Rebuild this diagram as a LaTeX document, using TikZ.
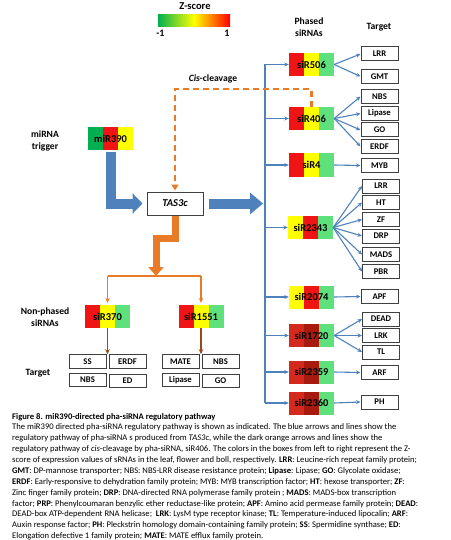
\documentclass[tikz,border=0pt]{standalone}
\usepackage{fontspec}
\setmainfont{Carlito}
\usetikzlibrary{arrows.meta}
\definecolor{zblue}{HTML}{4F81BD}
\definecolor{zorange}{HTML}{E97A26}
\definecolor{zbrown}{HTML}{9A4A1A}
\definecolor{zred}{HTML}{F01414}
\definecolor{zyel}{HTML}{FFFF00}
\definecolor{zlgreen}{HTML}{5EE07C}
\definecolor{zgreen}{HTML}{00B050}
\definecolor{zredA}{HTML}{D42A1E}
\definecolor{zredB}{HTML}{A8190F}
\definecolor{tgray}{HTML}{404040}
\newcommand\sirbox[7]{%
  \fill[#4] (#2-22.5,#3-11.5) rectangle ++(15,23);
  \fill[#5] (#2-7.5,#3-11.5) rectangle ++(15,23);
  \fill[#6] (#2+7.5,#3-11.5) rectangle ++(15,23);
  \node[sitext] (#1) at (#2,#3) {#7};}
\tikzset{
  tgt/.style={draw=tgray, line width=1pt, fill=white, minimum width=37pt, minimum height=14pt, inner sep=0pt, font=\fontsize{8.7}{10}\selectfont\bfseries},
  sitext/.style={minimum width=45pt, minimum height=23pt, inner sep=0pt, font=\fontsize{10.5}{12}\selectfont\bfseries},
  lbl/.style={align=center, inner sep=0pt, font=\fontsize{9.6}{12}\selectfont\bfseries},
  thinblue/.style={draw=zblue, line width=1.1pt, -{Stealth[length=4.5pt,width=4pt]}},
  thinorange/.style={draw=zorange, line width=1.3pt, -{Stealth[length=5pt,width=4.5pt]}},
  brownarr/.style={draw=zbrown, line width=1.3pt, -{Stealth[length=5pt,width=4.5pt]}},
  capline/.style={anchor=base west, inner sep=0pt, font=\fontsize{8.6}{10}\selectfont},
}
\begin{document}
\begin{tikzpicture}[x=1pt,y=-1pt]
\useasboundingbox (0,0) rectangle (450,540);
% Z-score legend
\node[lbl, font=\fontsize{10.5}{12}\selectfont\bfseries] (zt) at (195,6) {Z-score};
\shade[left color=zgreen, right color=red, middle color=zyel] (158,15) rectangle (230,27);
\node[lbl, font=\fontsize{10}{12}\selectfont\bfseries] (zm) at (160.5,33.5) {-1};
\node[lbl, font=\fontsize{10}{12}\selectfont\bfseries] (zp) at (227,33.5) {1};
% headers
\node[lbl] (ph) at (309,27) {Phased\\siRNAs};
\node[lbl] (th) at (379,27) {Target};
\node[lbl] (mt) at (45,141) {miRNA\\trigger};
\node[lbl] (np) at (45,317.5) {Non-phased\\siRNAs};
\node[lbl] (nt) at (38,373) {Target};
% miR390 and TAS3c
\sirbox{mir}{110.5}{139}{zgreen}{zred}{zyel}{miR390}
\node[draw=tgray, line width=1pt, minimum width=56pt, minimum height=23pt, inner sep=0pt, font=\fontsize{10.5}{12}\selectfont\bfseries\itshape] (tas) at (175,203.5) {TAS3c};
% phased siRNAs
\sirbox{s506}{311.5}{64.5}{zred}{zyel}{zlgreen}{siR506}
\sirbox{s406}{311.5}{118.5}{zred}{zyel}{zlgreen}{siR406}
\sirbox{s4}{311.5}{165}{zred}{zyel}{zlgreen}{siR4}
\sirbox{s2343}{310.5}{227.5}{zyel}{zred}{zlgreen}{siR2343}
\sirbox{s2074}{311.5}{297}{zyel}{zred}{zlgreen}{siR2074}
\sirbox{s1720}{311.5}{335.5}{zredA}{zredB}{zlgreen}{siR1720}
\sirbox{s2359}{311.5}{372}{zredA}{zredB}{zlgreen}{siR2359}
\sirbox{s2360}{311.5}{403}{zredA}{zredB}{zlgreen}{siR2360}
% targets
\node[tgt] (t1) at (379.5,54) {LRR};
\node[tgt] (t2) at (379.5,76.5) {GMT};
\node[tgt] (t3) at (379.5,96.5) {NBS};
\node[tgt] (t4) at (379.5,113.5) {Lipase};
\node[tgt] (t5) at (379.5,130) {GO};
\node[tgt] (t6) at (379.5,146.5) {ERDF};
\node[tgt] (t7) at (379.5,165.5) {MYB};
\node[tgt] (t8) at (381,186) {LRR};
\node[tgt] (t9) at (381,202.5) {HT};
\node[tgt] (t10) at (381,219.5) {ZF};
\node[tgt] (t11) at (381,236) {DRP};
\node[tgt] (t12) at (381,254.5) {MADS};
\node[tgt] (t13) at (381,271.5) {PBR};
\node[tgt] (t14) at (379.5,296.5) {APF};
\node[tgt] (t15) at (381,319) {DEAD};
\node[tgt] (t16) at (381,335.5) {LRK};
\node[tgt] (t17) at (381,352) {TL};
\node[tgt] (t18) at (379.5,372.5) {ARF};
\node[tgt] (t19) at (379.5,402) {PH};
% trunk
\coordinate (tt) at (265,64.5);
\coordinate (tb) at (265,403);
\draw[zblue, line width=1.1pt] (tt) -- (tb);
\foreach \s in {s506,s406,s4,s2343,s2074,s1720,s2359,s2360}
  \draw[thinblue] (\s.west -| tt) -- (\s.west);
% siRNA -> targets
\foreach \s/\t in {s506/t1,s506/t2,s406/t3,s406/t4,s406/t5,s406/t6,s4/t7,s2343/t8,s2343/t9,s2343/t10,s2343/t11,s2343/t12,s2343/t13,s2074/t14,s1720/t15,s1720/t16,s1720/t17,s2359/t18,s2360/t19}
  \draw[thinblue] (\s.east) -- (\t.west);
% thick blue arrows
\draw[zblue, line width=10pt, line join=miter, -{Triangle[length=10pt,width=20pt]}, shorten <=1.5pt, shorten >=4pt] (mir.south) |- (tas.west);
\draw[zblue, line width=10pt, -{Triangle[length=13pt,width=21pt]}, shorten <=5pt, shorten >=2pt] (tas.east) -- (tas.east -| tt);
% cis-cleavage dashed
\draw[zorange, line width=2.4pt, dash pattern=on 6pt off 4pt, -{Triangle[length=6pt,width=7pt]}, shorten >=1pt] (s406.north) -- ++(0,-17.5) -| (tas.north);
\node[lbl] (cis) at (213,79) {\textit{Cis}-cleavage};
% non-phased
\sirbox{s370}{107.5}{316.5}{zred}{zyel}{zlgreen}{siR370}
\sirbox{s1551}{201}{316.5}{zred}{zyel}{zlgreen}{siR1551}
\coordinate (fork) at (156,276);
\draw[zorange, line width=7pt, line join=miter, -{Triangle[length=9pt,width=15pt]}] (tas.south) -- ++(0,23) -| (fork);
\draw[zorange, line width=1.3pt] (s370.north |- fork) -- (s1551.north |- fork);
\draw[thinorange, shorten >=2pt] (s370.north |- fork) -- (s370.north);
\draw[thinorange, shorten >=2pt] (s1551.north |- fork) -- (s1551.north);
\node[tgt, minimum height=13.5pt] (n1) at (87.5,361.5) {SS};
\node[tgt, minimum height=13.5pt] (n2) at (127.5,361.5) {ERDF};
\node[tgt, minimum height=13.5pt] (n3) at (87.5,380) {NBS};
\node[tgt, minimum height=13.5pt] (n4) at (127.5,381) {ED};
\node[tgt, minimum height=13.5pt] (n5) at (180.5,361.5) {MATE};
\node[tgt, minimum height=13.5pt] (n6) at (220.5,361.5) {NBS};
\node[tgt, minimum height=13.5pt] (n7) at (180.5,380) {Lipase};
\node[tgt, minimum height=13.5pt] (n8) at (220.5,381) {GO};
\draw[brownarr] (s370.south) -- (s370.south |- n1.north);
\draw[brownarr] (s1551.south) -- (s1551.south |- n5.north);
% caption
\node[capline] (c0) at (12,419) {\textbf{Figure 8. miR390-directed pha-siRNA regulatory pathway}};
\node[capline] (c1) at (12,429.7) {The miR390 directed pha-siRNA regulatory pathway is shown as indicated. The blue arrows and lines show the};
\node[capline] (c2) at (12,440.6) {regulatory pathway of pha-siRNA s produced from \textit{TAS3c}, while the dark orange arrows and lines show the};
\node[capline] (c3) at (12,451.5) {regulatory pathway of \textit{cis}-cleavage by pha-siRNA, siR406. The colors in the boxes from left to right represent the Z-};
\node[capline] (c4) at (12,462.4) {score of expression values of sRNAs in the leaf, flower and boll, respectively. \textbf{LRR}: Leucine-rich repeat family protein;};
\node[capline] (c5) at (12,473.3) {\textbf{GMT}: DP-mannose transporter; NBS: NBS-LRR disease resistance protein; \textbf{Lipase}: Lipase; \textbf{GO}: Glycolate oxidase;};
\node[capline] (c6) at (12,484.2) {\textbf{ERDF}: Early-responsive to dehydration family protein; MYB: MYB transcription factor; \textbf{HT}: hexose transporter; \textbf{ZF}:};
\node[capline] (c7) at (12,495.1) {Zinc finger family protein; \textbf{DRP}: DNA-directed RNA polymerase family protein ; \textbf{MADS}: MADS-box transcription};
\node[capline] (c8) at (12,506) {factor; \textbf{PRP}: Phenylcoumaran benzylic ether reductase-like protein; \textbf{APF}: Amino acid permease family protein; \textbf{DEAD}:};
\node[capline] (c9) at (12,516.9) {DEAD-box ATP-dependent RNA helicase;\ \ \textbf{LRK}: LysM type receptor kinase; \textbf{TL}: Temperature-induced lipocalin; \textbf{ARF}:};
\node[capline] (c10) at (12,527.8) {Auxin response factor; \textbf{PH}: Pleckstrin homology domain-containing family protein; \textbf{SS}: Spermidine synthase; \textbf{ED}:};
\node[capline] (c11) at (12,538.7) {Elongation defective 1 family protein; \textbf{MATE}: MATE efflux family protein.};
\end{tikzpicture}
\end{document}
